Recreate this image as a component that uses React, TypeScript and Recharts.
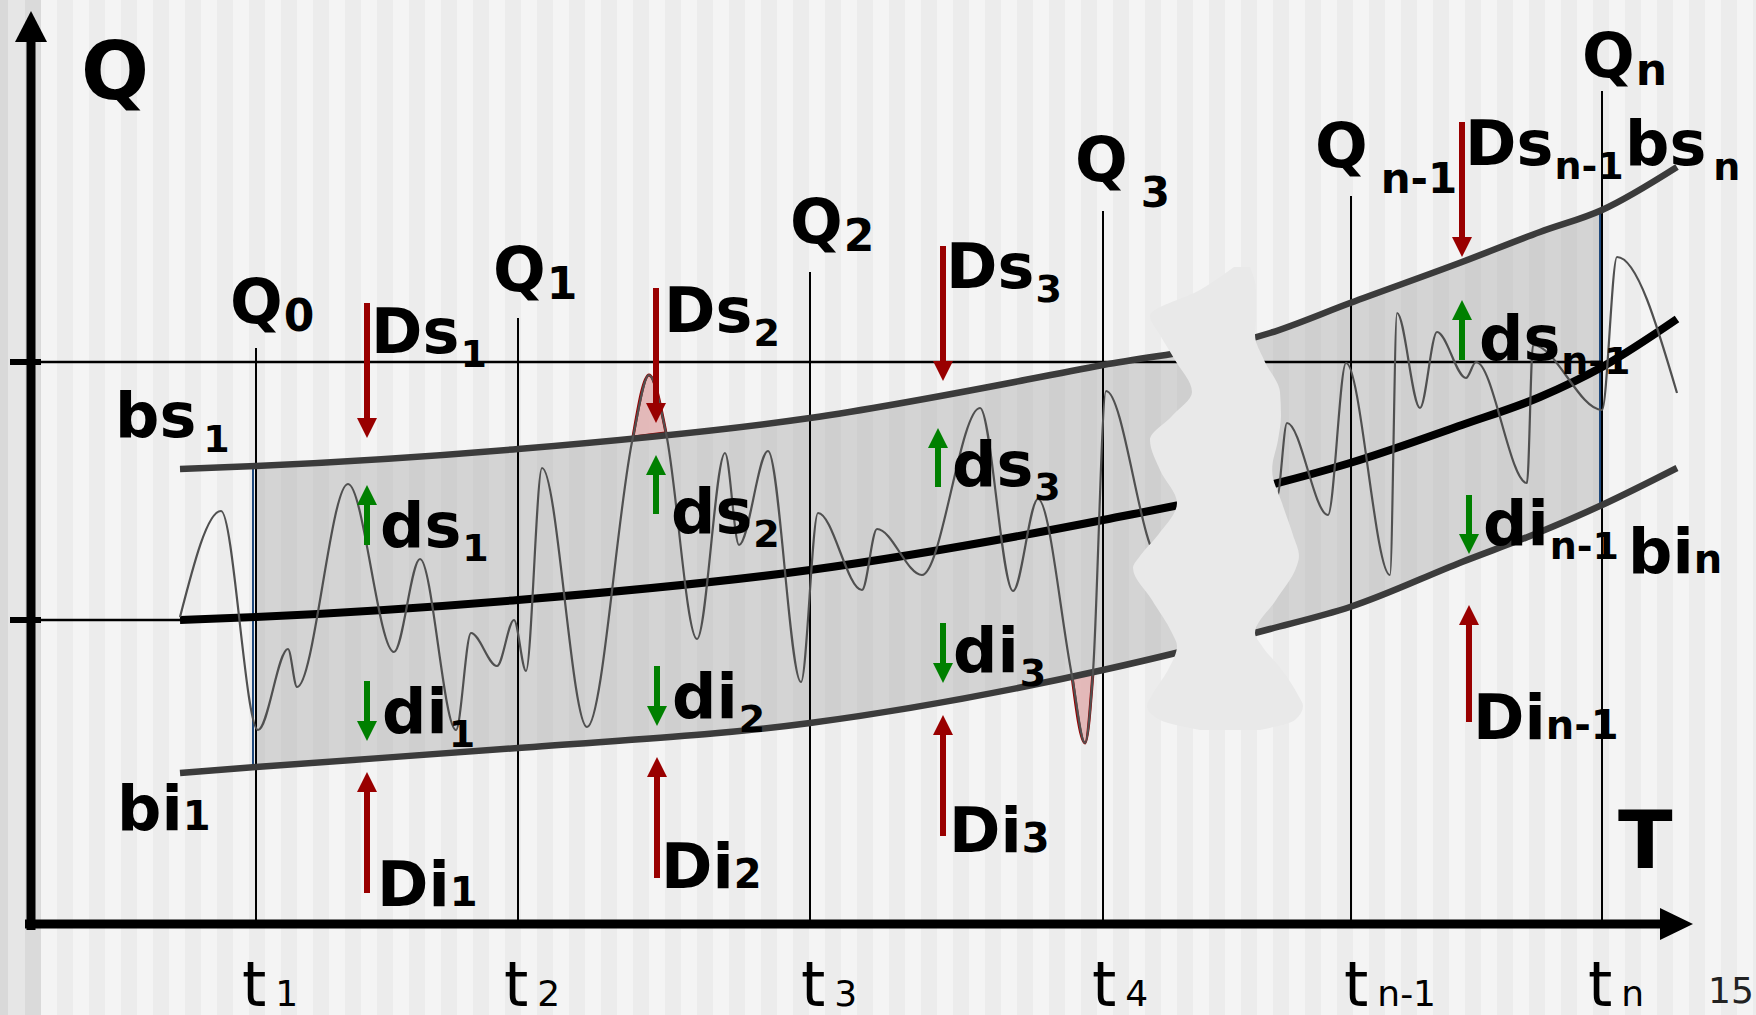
import React from 'react';
import { ComposedChart, XAxis, YAxis, Area, Line, Scatter, ReferenceLine } from 'recharts';

const W = 1756;
const H = 1015;
// T runs along the page, Q is the height above the time axis
const T_DOMAIN: [number, number] = [0, 1756];
const Q_DOMAIN: [number, number] = [-91, 924];

// envelope (bs / mean / bi) read at a few times
const knotT = [180, 256, 518, 810, 1103, 1270, 1350, 1462, 1540, 1602, 1677];
const upperQ = [455, 458, 475, 506, 559, 591, 621, 662, 692, 714, 757];
const centerQ = [304, 307, 324, 354, 404, 439, 461, 499, 527, 557, 605];
const lowerQ = [151, 157, 176, 201, 254, 295, 317, 362, 392, 419, 456];

// measured flow: peaks and troughs
const signalT = [180, 221, 258, 288, 297, 348, 394, 420, 456, 471, 497, 514, 526, 542, 587, 633, 649, 666, 697, 725, 739, 768, 801, 818, 862, 877, 922, 980, 1013, 1038, 1072, 1085, 1093, 1106, 1160, 1220, 1277, 1287, 1328, 1346, 1390, 1397, 1420, 1437, 1466, 1476, 1527, 1533, 1602, 1617, 1677];
const signalQ = [307, 413, 194, 275, 237, 440, 272, 365, 194, 291, 258, 304, 253, 456, 197, 487, 549, 491, 285, 471, 379, 473, 242, 411, 334, 395, 349, 516, 333, 425, 248, 181, 252, 533, 364, 440, 427, 501, 409, 561, 349, 611, 516, 592, 546, 562, 441, 579, 514, 667, 531];

// where the flow leaves the envelope
const overT = [633, 649, 666];
const overBase = [487, 489, 491];
const overTop = [487, 549, 491];
const underT = [1072, 1085, 1093];
const underBase = [248, 251, 252];
const underBottom = [248, 181, 252];

// time marks
const timeT = [256, 518, 810, 1103, 1351, 1602];
const timeTop = [576, 606, 652, 713, 728, 833];
const levelQ = [562, 304];
const levelEnd = [1602, 182];

// deviation arrows
const DsT = [367, 656, 943, 1462];
const DsFrom = [621, 636, 678, 802];
const DsTo = [486, 501, 543, 667];
const dsT = [367, 656, 938, 1462];
const dsFrom = [379, 410, 437, 564];
const dsTo = [439, 469, 496, 624];
const diT = [367, 657, 943, 1469];
const diFrom = [243, 258, 301, 429];
const diTo = [183, 198, 241, 370];
const DiT = [367, 657, 943, 1469];
const DiFrom = [31, 46, 88, 202];
const DiTo = [152, 167, 209, 319];

// the "time skip" break
const blobQ = [657, 634, 608, 589, 564, 532, 508, 484, 454, 421, 389, 368, 356, 324, 291, 278, 254, 229, 218, 204, 194];
const blobLeft = [1234, 1200, 1150, 1160, 1175, 1192, 1172, 1150, 1160, 1177, 1158, 1140, 1133, 1152, 1172, 1177, 1168, 1152, 1147, 1160, 1200];
const blobRight = [1250, 1256, 1256, 1255, 1264, 1280, 1281, 1278, 1272, 1282, 1293, 1299, 1296, 1276, 1255, 1262, 1282, 1298, 1303, 1295, 1260];

// labels
const axisTitles = [
  { x: 81, y: 825, main: 'Q' },
  { x: 1618, y: 56, main: 'T' },
];
const qLabels = [
  { x: 230, y: 601, main: 'Q', sub: '0' },
  { x: 493, y: 633, main: 'Q', sub: '1' },
  { x: 790, y: 681, main: 'Q', sub: '2' },
  { x: 1582, y: 847, main: 'Q', sub: 'n' },
];
const qLowLabels = [
  { x: 1075, y: 743, main: 'Q', sub: '3' },
  { x: 1315, y: 757, main: 'Q', sub: 'n-1' },
];
const loweredLabels = [
  { x: 371, y: 571, main: 'Ds', sub: '1' },
  { x: 664, y: 592, main: 'Ds', sub: '2' },
  { x: 946, y: 636, main: 'Ds', sub: '3' },
  { x: 1465, y: 759, main: 'Ds', sub: 'n-1' },
  { x: 380, y: 377, main: 'ds', sub: '1' },
  { x: 671, y: 391, main: 'ds', sub: '2' },
  { x: 952, y: 438, main: 'ds', sub: '3' },
  { x: 1479, y: 564, main: 'ds', sub: 'n-1' },
  { x: 382, y: 191, main: 'di', sub: '1' },
  { x: 672, y: 206, main: 'di', sub: '2' },
  { x: 953, y: 252, main: 'di', sub: '3' },
  { x: 1483, y: 379, main: 'di', sub: 'n-1' },
];
const boundLabels = [
  { x: 115, y: 487, main: 'bs', sub: '1' },
  { x: 1625, y: 759, main: 'bs', sub: 'n' },
];
const inlineLabels = [
  { x: 117, y: 94, main: 'bi', sub: '1' },
  { x: 377, y: 18, main: 'Di', sub: '1' },
  { x: 661, y: 36, main: 'Di', sub: '2' },
  { x: 949, y: 72, main: 'Di', sub: '3' },
  { x: 1473, y: 185, main: 'Di', sub: 'n-1' },
  { x: 1628, y: 351, main: 'bi', sub: 'n' },
];
const timeLabels = [
  { x: 242, y: -82, main: 't', sub: '1' },
  { x: 504, y: -82, main: 't', sub: '2' },
  { x: 801, y: -82, main: 't', sub: '3' },
  { x: 1092, y: -82, main: 't', sub: '4' },
  { x: 1344, y: -82, main: 't', sub: 'n-1' },
  { x: 1588, y: -82, main: 't', sub: 'n' },
];
const pageLabels = [{ x: 1708, y: -79, main: '15' }];

const FONT = "'DejaVu Sans', Verdana, sans-serif";
const RED = '#990000';
const GREEN = '#008000';

const BG =
  'linear-gradient(90deg, #d9d9d9 0px, #d9d9d9 8px, #e6e6e6 8px, #e6e6e6 25px, #dadada 25px, #dadada 41px, rgba(0,0,0,0) 41px),' +
  ' repeating-linear-gradient(90deg, #ececec 0px, #ececec 9px, #f4f4f4 9px, #f4f4f4 25px, #ececec 25px, #ececec 32px)';

type LabelStyle = { size: number; weight: number; subSize: number; dy: number; gap: number; color: string };

const labelShape = (s: LabelStyle) => (props: any) => {
  const { cx, cy, payload } = props;
  return (
    <text x={cx} y={cy} fontFamily={FONT} fontWeight={s.weight} fontSize={s.size} fill={s.color}>
      {payload.main}
      {payload.sub ? (
        <tspan dx={s.gap} dy={s.dy} fontSize={s.subSize}>
          {payload.sub}
        </tspan>
      ) : null}
    </text>
  );
};

const arrowShape = (color: string, width: number, headLen: number, headHalf: number) => (props: any) => {
  const { x1, y1, x2, y2 } = props;
  const dx = x2 - x1;
  const dy = y2 - y1;
  const len = Math.hypot(dx, dy) || 1;
  const ux = dx / len;
  const uy = dy / len;
  const bx = x2 - ux * headLen;
  const by = y2 - uy * headLen;
  const px = -uy * headHalf;
  const py = ux * headHalf;
  return (
    <g>
      <line x1={x1} y1={y1} x2={bx + ux * 2} y2={by + uy * 2} stroke={color} strokeWidth={width} />
      <polygon points={`${x2},${y2} ${bx + px},${by + py} ${bx - px},${by - py}`} fill={color} />
    </g>
  );
};

const rows = (ts: number[], qs: number[]) => ts.map((x, i) => ({ x, q: qs[i] }));
const rangeRows = (ts: number[], lo: number[], hi: number[]) => ts.map((x, i) => ({ x, r: [lo[i], hi[i]] }));

const arrows = (ts: number[], from: number[], to: number[], color: string, key: string) =>
  ts.map((x, i) => (
    <ReferenceLine
      key={`${key}-${i}`}
      segment={[{ x, y: from[i] }, { x, y: to[i] }]}
      ifOverflow="visible"
      shape={arrowShape(color, 6, 20, 10)}
    />
  ));

const STYLES: Record<string, LabelStyle> = {
  axis: { size: 80, weight: 700, subSize: 0, dy: 0, gap: 0, color: '#000' },
  q: { size: 62, weight: 700, subSize: 44, dy: 8, gap: 1, color: '#000' },
  qLow: { size: 62, weight: 700, subSize: 42, dy: 26, gap: 13, color: '#000' },
  lowered: { size: 62, weight: 700, subSize: 38, dy: 14, gap: 1, color: '#000' },
  bound: { size: 62, weight: 700, subSize: 38, dy: 15, gap: 7, color: '#000' },
  inline: { size: 62, weight: 700, subSize: 40, dy: 0, gap: 0, color: '#000' },
  time: { size: 62, weight: 400, subSize: 36, dy: 0, gap: 9, color: '#000' },
  page: { size: 36, weight: 400, subSize: 0, dy: 0, gap: 0, color: '#222' },
};

const labelGroups: [string, { x: number; y: number; main: string; sub?: string }[]][] = [
  ['axis', axisTitles],
  ['q', qLabels],
  ['qLow', qLowLabels],
  ['lowered', loweredLabels],
  ['bound', boundLabels],
  ['inline', inlineLabels],
  ['time', timeLabels],
  ['page', pageLabels],
];

export default function App() {
  const bandRows = knotT.slice(1, 10).map((x, i) => ({ x, r: [lowerQ[i + 1], upperQ[i + 1]] }));
  const blobRows = blobQ.map((y, i) => ({ y, span: [blobLeft[i], blobRight[i]] }));
  const margin = { top: 0, right: 0, bottom: 0, left: 0 };

  return (
    <div style={{ position: 'absolute', left: 0, top: 0, width: W, height: H, overflow: 'hidden', background: BG }}>
      <div style={{ position: 'absolute', left: 0, top: 0 }}>
        <ComposedChart width={W} height={H} margin={margin}>
          <XAxis type="number" dataKey="x" domain={T_DOMAIN} hide allowDataOverflow />
          <YAxis type="number" domain={Q_DOMAIN} hide allowDataOverflow />

          <Area data={bandRows} dataKey="r" type="monotone" fill="#8c8c8c" fillOpacity={0.3} stroke="none" dot={false} activeDot={false} isAnimationActive={false} />

          {labelGroups.map(([kind, data]) => (
            <Scatter key={kind} data={data} dataKey="y" shape={labelShape(STYLES[kind])} isAnimationActive={false} />
          ))}

          <ReferenceLine segment={[{ x: 253, y: upperQ[1] }, { x: 253, y: lowerQ[1] }]} stroke="#1f497d" strokeWidth={2} ifOverflow="visible" />
          <ReferenceLine segment={[{ x: 1600, y: upperQ[9] }, { x: 1600, y: lowerQ[9] }]} stroke="#1f497d" strokeWidth={2} ifOverflow="visible" />

          {timeT.map((x, i) => (
            <ReferenceLine key={`t-${i}`} segment={[{ x, y: 0 }, { x, y: timeTop[i] }]} stroke="#000" strokeWidth={2} ifOverflow="visible" />
          ))}
          {levelQ.map((q, i) => (
            <ReferenceLine key={`l-${i}`} segment={[{ x: 12, y: q }, { x: levelEnd[i], y: q }]} stroke="#000" strokeWidth={2.5} ifOverflow="visible" />
          ))}
          {levelQ.map((q, i) => (
            <ReferenceLine key={`k-${i}`} segment={[{ x: 10, y: q }, { x: 41, y: q }]} stroke="#000" strokeWidth={6} ifOverflow="visible" />
          ))}

          <Line data={rows(knotT, upperQ)} dataKey="q" type="monotone" stroke="#3b3b3b" strokeWidth={6.5} dot={false} activeDot={false} isAnimationActive={false} />
          <Line data={rows(knotT, lowerQ)} dataKey="q" type="monotone" stroke="#3b3b3b" strokeWidth={6.5} dot={false} activeDot={false} isAnimationActive={false} />
          <Line data={rows(knotT, centerQ)} dataKey="q" type="monotone" stroke="#000" strokeWidth={8} dot={false} activeDot={false} isAnimationActive={false} />
          <Line data={rows(signalT, signalQ)} dataKey="q" type="monotone" stroke="#505050" strokeWidth={2.2} dot={false} activeDot={false} isAnimationActive={false} />

          <Area data={rangeRows(overT, overBase, overTop)} dataKey="r" type="monotone" fill="#e2b4b4" fillOpacity={0.9} stroke={RED} strokeWidth={3} dot={false} activeDot={false} isAnimationActive={false} />
          <Area data={rangeRows(underT, underBottom, underBase)} dataKey="r" type="monotone" fill="#e2b4b4" fillOpacity={0.9} stroke={RED} strokeWidth={3} dot={false} activeDot={false} isAnimationActive={false} />

          {arrows(DsT, DsFrom, DsTo, RED, 'Ds')}
          {arrows(dsT, dsFrom, dsTo, GREEN, 'ds')}
          {arrows(diT, diFrom, diTo, GREEN, 'di')}
          {arrows(DiT, DiFrom, DiTo, RED, 'Di')}

          <ReferenceLine segment={[{ x: 31, y: -6 }, { x: 31, y: 913 }]} ifOverflow="visible" shape={arrowShape('#000', 9, 31, 16)} />
          <ReferenceLine segment={[{ x: 25, y: 0 }, { x: 1693, y: 0 }]} ifOverflow="visible" shape={arrowShape('#000', 9, 33, 16)} />
        </ComposedChart>
      </div>

      <div style={{ position: 'absolute', left: 0, top: 0 }}>
        <ComposedChart layout="vertical" width={W} height={H} margin={margin}>
          <XAxis type="number" domain={T_DOMAIN} hide allowDataOverflow />
          <YAxis type="number" dataKey="y" domain={Q_DOMAIN} reversed hide allowDataOverflow />
          <Area data={blobRows} dataKey="span" type="monotone" fill="#e9e9e9" fillOpacity={1} stroke="none" dot={false} activeDot={false} isAnimationActive={false} />
        </ComposedChart>
      </div>
    </div>
  );
}
